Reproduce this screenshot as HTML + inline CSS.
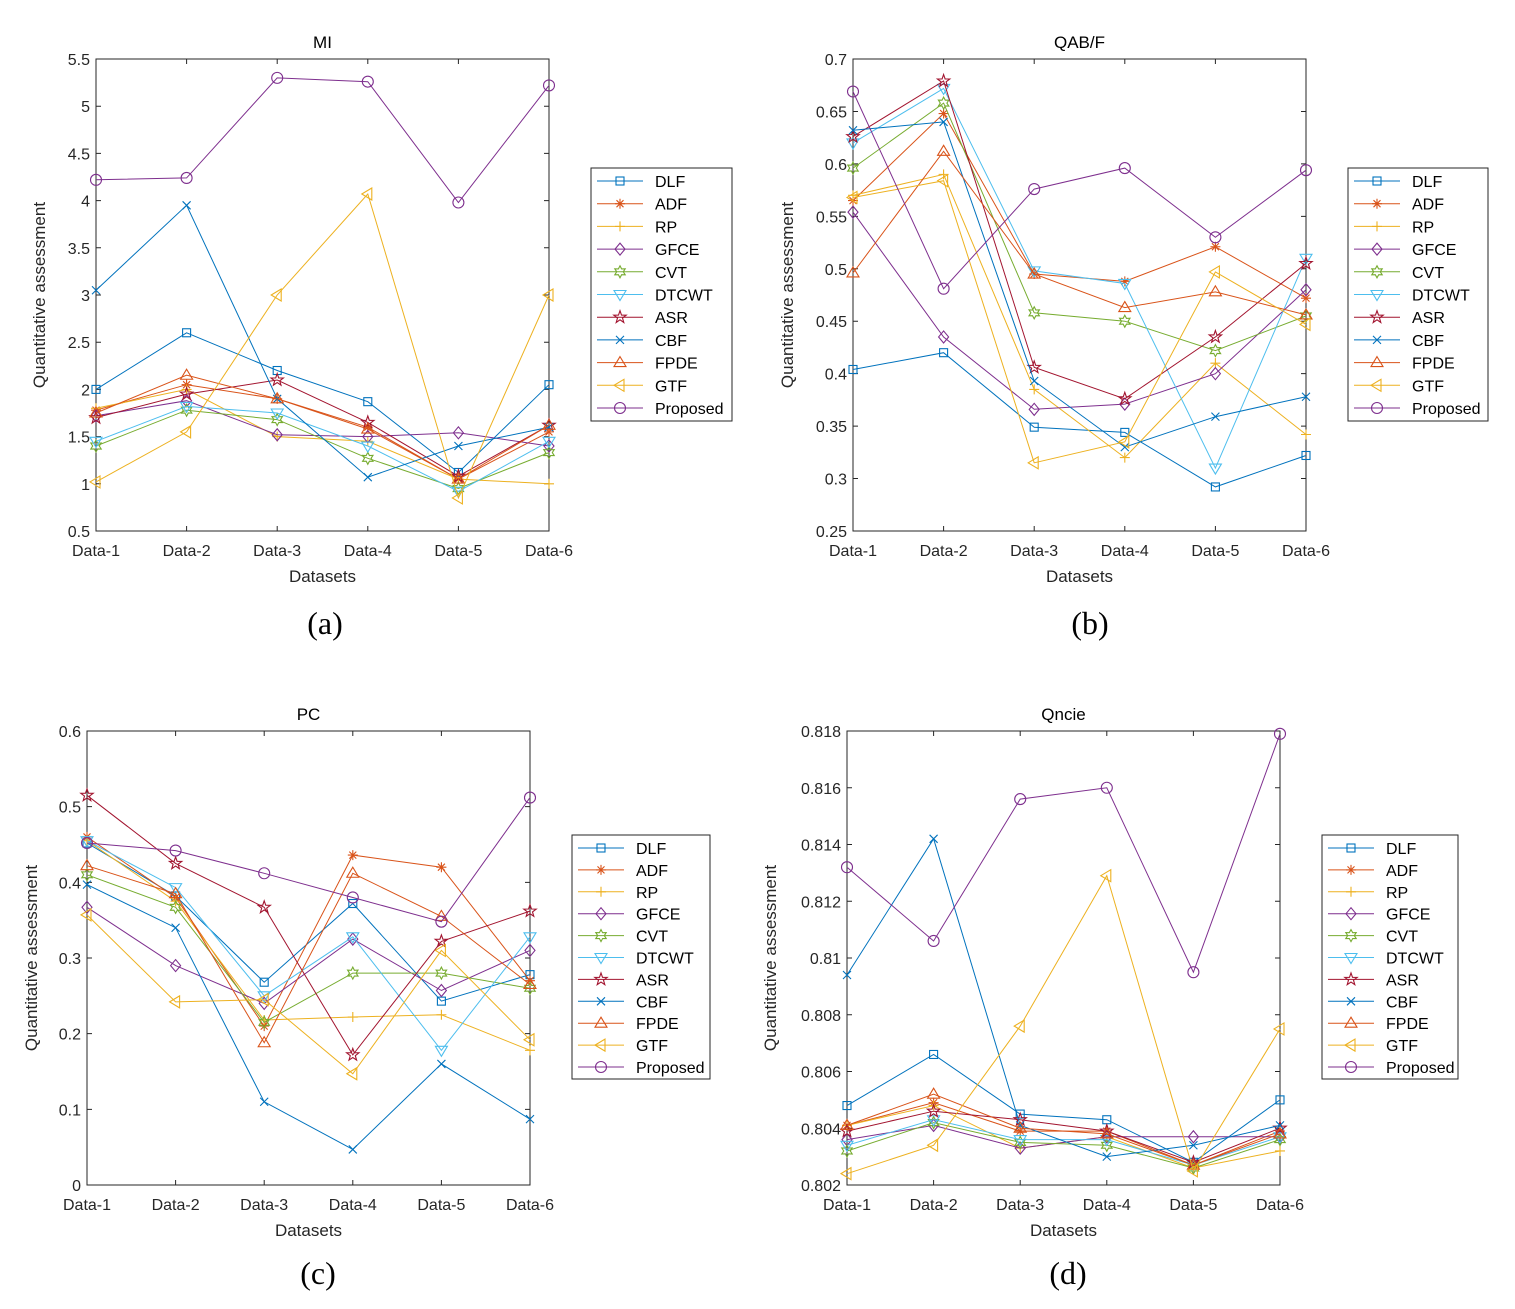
<!DOCTYPE html>
<html><head><meta charset="utf-8"><style>
body{margin:0;background:#fff;}
svg text{font-family:"Liberation Sans",sans-serif;}
</style></head><body>
<svg id="fig" width="1515" height="1304" xmlns="http://www.w3.org/2000/svg"></svg>
<script>
const categories=["Data-1","Data-2","Data-3","Data-4","Data-5","Data-6"];
const seriesNames=["DLF","ADF","RP","GFCE","CVT","DTCWT","ASR","CBF","FPDE","GTF","Proposed"];
const miValues=[
[2.0,2.6,2.2,1.87,1.12,2.05],
[1.78,2.05,1.9,1.6,1.05,1.55],
[1.8,2.0,1.5,1.45,1.05,1.0],
[1.72,1.88,1.52,1.5,1.54,1.4],
[1.4,1.78,1.68,1.27,0.95,1.33],
[1.45,1.82,1.75,1.4,0.92,1.45],
[1.7,1.95,2.1,1.65,1.08,1.62],
[3.05,3.95,1.9,1.07,1.4,1.6],
[1.75,2.15,1.9,1.58,1.05,1.62],
[1.02,1.55,3.0,4.07,0.85,3.0],
[4.22,4.24,5.3,5.26,3.98,5.22]];
const qabfValues=[
[0.404,0.42,0.349,0.344,0.292,0.322],
[0.565,0.648,0.495,0.488,0.521,0.472],
[0.57,0.59,0.385,0.32,0.41,0.342],
[0.554,0.435,0.366,0.371,0.4,0.48],
[0.596,0.658,0.458,0.45,0.422,0.455],
[0.62,0.672,0.498,0.486,0.31,0.51],
[0.626,0.679,0.406,0.376,0.435,0.505],
[0.632,0.64,0.393,0.33,0.359,0.378],
[0.496,0.612,0.495,0.463,0.478,0.456],
[0.568,0.584,0.315,0.335,0.497,0.447],
[0.669,0.481,0.576,0.596,0.53,0.594]];
const pcValues=[
[0.452,0.382,0.268,0.372,0.243,0.278],
[0.46,0.38,0.21,0.436,0.42,0.27],
[0.455,0.375,0.218,0.222,0.225,0.178],
[0.367,0.29,0.24,0.325,0.257,0.31],
[0.41,0.367,0.215,0.28,0.28,0.26],
[0.455,0.393,0.25,0.328,0.178,0.328],
[0.515,0.425,0.367,0.172,0.322,0.362],
[0.397,0.34,0.11,0.047,0.16,0.087],
[0.422,0.385,0.188,0.412,0.355,0.265],
[0.357,0.242,0.245,0.147,0.31,0.192],
[0.452,0.442,0.412,0.38,0.348,0.512]];
const qncieValues=[
[0.8048,0.8066,0.8045,0.8043,0.8028,0.805],
[0.8041,0.8049,0.8039,0.8039,0.8027,0.8039],
[0.8041,0.8048,0.8033,0.8037,0.8026,0.8032],
[0.8036,0.8041,0.8033,0.8037,0.8037,0.8037],
[0.8032,0.8042,0.8035,0.8034,0.8026,0.8036],
[0.8034,0.8043,0.8036,0.8036,0.8027,0.8037],
[0.8039,0.8046,0.8043,0.8039,0.8028,0.804],
[0.8094,0.8142,0.8041,0.803,0.8034,0.8041],
[0.8041,0.8052,0.804,0.8038,0.8027,0.8038],
[0.8024,0.8034,0.8076,0.8129,0.8025,0.8075],
[0.8132,0.8106,0.8156,0.816,0.8095,0.8179]];
const miTicks=["0.5","1","1.5","2","2.5","3","3.5","4","4.5","5","5.5"];
const qabfTicks=["0.25","0.3","0.35","0.4","0.45","0.5","0.55","0.6","0.65","0.7"];
const pcTicks=["0","0.1","0.2","0.3","0.4","0.5","0.6"];
const qncieTicks=["0.802","0.804","0.806","0.808","0.81","0.812","0.814","0.816","0.818"];

const colors=["#0072BD","#D95319","#EDB120","#7E2F8E","#77AC30","#4DBEEE","#A2142F","#0072BD","#D95319","#EDB120","#7E2F8E"];
const markers=["square","asterisk","plus","diamond","hexagram","tridown","pentagram","x","triup","trileft","circle"];
const NS="http://www.w3.org/2000/svg";
const svg=document.getElementById("fig");
function el(tag,attrs,parent){const e=document.createElementNS(NS,tag);for(const k in attrs)e.setAttribute(k,attrs[k]);(parent||svg).appendChild(e);return e;}
function star(cx,cy,n,ro,ri){let p=[];for(let i=0;i<2*n;i++){const a=-Math.PI/2+i*Math.PI/n;const r=i%2?ri:ro;p.push((cx+r*Math.cos(a)).toFixed(1)+","+(cy+r*Math.sin(a)).toFixed(1));}return p.join(" ");}
function marker(g,type,x,y,c){
  const s=5;const st={fill:"none",stroke:c,"stroke-width":1.1};
  let m;
  if(type==="square")m=el("rect",{x:x-4,y:y-4,width:8,height:8,...st},g);
  else if(type==="circle")m=el("circle",{cx:x,cy:y,r:5.5,...st},g);
  else if(type==="diamond")m=el("polygon",{points:`${x},${y-6} ${x+5},${y} ${x},${y+6} ${x-5},${y}`,...st},g);
  else if(type==="plus")m=el("path",{d:`M${x-s},${y}H${x+s}M${x},${y-s}V${y+s}`,...st},g);
  else if(type==="x")m=el("path",{d:`M${x-4},${y-4}L${x+4},${y+4}M${x-4},${y+4}L${x+4},${y-4}`,...st},g);
  else if(type==="asterisk")m=el("path",{d:`M${x-s},${y}H${x+s}M${x},${y-s}V${y+s}M${x-3.5},${y-3.5}L${x+3.5},${y+3.5}M${x-3.5},${y+3.5}L${x+3.5},${y-3.5}`,...st},g);
  else if(type==="triup")m=el("polygon",{points:`${x},${y-6} ${x+6},${y+4} ${x-6},${y+4}`,...st},g);
  else if(type==="tridown")m=el("polygon",{points:`${x},${y+6} ${x+6},${y-4} ${x-6},${y-4}`,...st},g);
  else if(type==="trileft")m=el("polygon",{points:`${x-6},${y} ${x+4},${y-6} ${x+4},${y+6}`,...st},g);
  else if(type==="pentagram")m=el("polygon",{points:star(x,y,5,6.5,2.6),...st},g);
  else if(type==="hexagram")m=el("polygon",{points:star(x,y,6,6,3.3),...st},g);
  
  
}
function panel(cfg){
  const {name,L,R,T,B,ymin,ymax,ticks,values,title,leg,legStep,cap,capY,ylOff}=cfg;
  const g=el("g",{});
  
  
  const xs=i=>L+(R-L)*i/(categories.length-1);
  const ys=v=>B-(B-T)*(v-ymin)/(ymax-ymin);
  el("rect",{x:L,y:T,width:R-L,height:B-T,fill:"#fff",stroke:"#262626","stroke-width":1},g);
  ticks.forEach(t=>{const y=ys(parseFloat(t));
    el("path",{d:`M${L},${y}h5M${R},${y}h-5`,stroke:"#262626","stroke-width":1},g);
    const tx=el("text",{x:L-6,y:y+6,"text-anchor":"end","font-size":16,fill:"#262626"},g);tx.textContent=t;
    });
  categories.forEach((c,i)=>{const x=xs(i);
    el("path",{d:`M${x},${B}v-5M${x},${T}v5`,stroke:"#262626","stroke-width":1},g);
    const tx=el("text",{x:x,y:B+25,"text-anchor":"middle","font-size":16,fill:"#262626"},g);tx.textContent=c;
    });
  const tt=el("text",{x:(L+R)/2,y:T-11,"text-anchor":"middle","font-size":17,fill:"#000"},g);tt.textContent=title;
  
  const xl=el("text",{x:(L+R)/2,y:B+51,"text-anchor":"middle","font-size":17,fill:"#262626"},g);xl.textContent="Datasets";
  
  const yx=L-ylOff,yy=(T+B)/2;
  const yl=el("text",{x:yx,y:yy,"text-anchor":"middle","font-size":17,fill:"#262626",transform:`rotate(-90 ${yx} ${yy})`},g);yl.textContent="Quantitative assessment";
  
  values.forEach((vals,s)=>{
    const sg=el("g",{},g);
    
    
    const pts=vals.map((v,i)=>xs(i).toFixed(1)+","+ys(v).toFixed(1)).join(" ");
    const pl=el("polyline",{points:pts,fill:"none",stroke:colors[s],"stroke-width":1},sg);
    
    vals.forEach((v,i)=>marker(sg,markers[s],xs(i),ys(v),colors[s]));
  });
  const lg=el("g",{},g);
  
  
  el("rect",{x:leg[0],y:leg[1],width:leg[2],height:leg[3],fill:"#fff",stroke:"#262626","stroke-width":1},lg);
  seriesNames.forEach((n,s)=>{
    const y=leg[1]+13+s*legStep;const x0=leg[0]+6;
    const eg=el("g",{},lg);
    
    
    el("line",{x1:x0,y1:y,x2:x0+46,y2:y,stroke:colors[s],"stroke-width":1},eg);
    marker(eg,markers[s],x0+23,y,colors[s]);
    const t=el("text",{x:x0+58,y:y+6,"font-size":16,fill:"#000"},eg);t.textContent=n;
  });
  const ct=el("text",{x:cap[0],y:capY,"text-anchor":"middle","font-size":32,fill:"#000"},g);
  ct.setAttribute("style","font-family:'Liberation Serif',serif");ct.textContent=cap[1];
  
}
panel({name:"mi",L:96,R:549,T:59,B:531,ymin:0.5,ymax:5.5,ticks:miTicks,values:miValues,title:"MI",leg:[591,168,141,253],legStep:22.7,cap:[325,"(a)"],capY:634,ylOff:51});
panel({name:"qabf",L:853,R:1306,T:59,B:531,ymin:0.25,ymax:0.7,ticks:qabfTicks,values:qabfValues,title:"QAB/F",leg:[1348,168,140,253],legStep:22.7,cap:[1090,"(b)"],capY:634,ylOff:60});
panel({name:"pc",L:87,R:530,T:731,B:1185,ymin:0,ymax:0.6,ticks:pcTicks,values:pcValues,title:"PC",leg:[572,835,138,244],legStep:21.9,cap:[318,"(c)"],capY:1284,ylOff:50});
panel({name:"qncie",L:847,R:1280,T:731,B:1185,ymin:0.802,ymax:0.818,ticks:qncieTicks,values:qncieValues,title:"Qncie",leg:[1322,835,136,244],legStep:21.9,cap:[1068,"(d)"],capY:1284,ylOff:71});
</script>
</body></html>
